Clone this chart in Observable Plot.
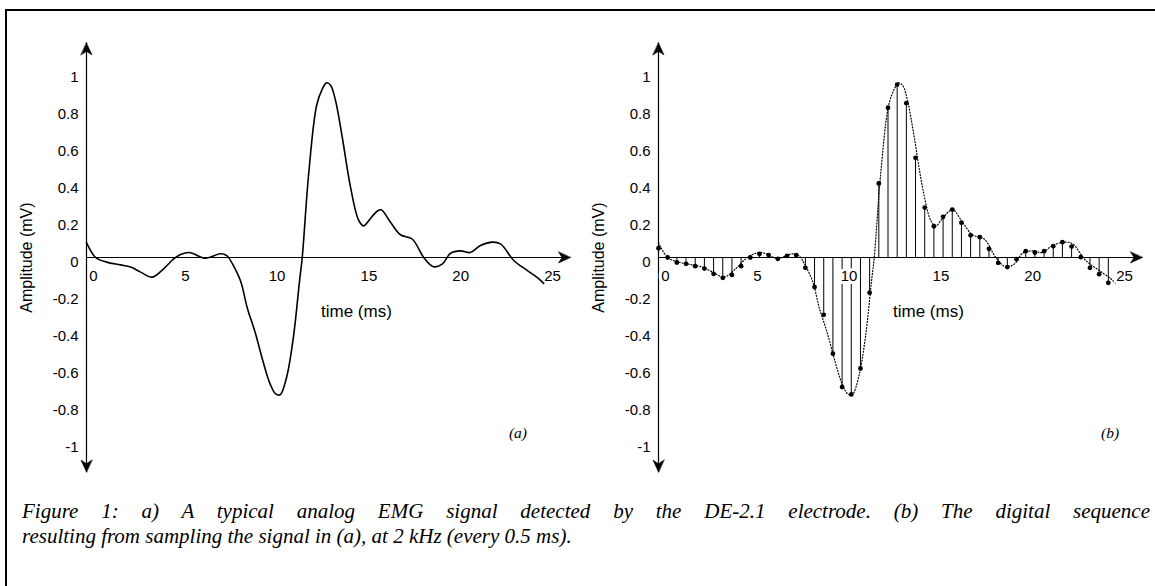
<!DOCTYPE html>
<html>
<head>
<meta charset="utf-8">
<script src="https://cdn.jsdelivr.net/npm/d3@7"></script>
<script src="https://cdn.jsdelivr.net/npm/@observablehq/plot@0.6"></script>
<style>
  html, body { margin: 0; padding: 0; background: #fff; }
  body { width: 1155px; height: 586px; position: relative; overflow: hidden; font-family: "Liberation Sans", Arial, sans-serif; }
  #a { position: absolute; left: 0; top: 0; }
  #b { position: absolute; left: 572px; top: 0; }
  #frame { position: absolute; left: 5px; top: 9px; width: 1200px; height: 700px; border-left: 2.5px solid #000; border-top: 2.5px solid #000; pointer-events: none; }
  #caption { position: absolute; left: 22px; top: 499px; width: 1128px; font-family: "Liberation Serif", "Times New Roman", serif; font-style: italic; font-size: 21px; line-height: 25px; color: #000; }
  #caption .l1 { text-align: justify; text-align-last: justify; white-space: nowrap; }
  #caption .l2 { text-align: left; white-space: nowrap; }
</style>
</head>
<body>
<div id="a"></div>
<div id="b"></div>
<div id="caption"></div>
<div id="frame"></div>
<script>
// ---- data ----
// analog signal (panel a and dotted curve of panel b): time in ms, amplitude in mV
const analogTime = [0, 0.5, 1.1, 1.85, 2.4, 2.95, 3.58, 4.2, 4.75, 5.12, 5.6, 6.48, 7.3, 7.66, 7.95, 8.4, 8.75, 9.2, 9.6, 10.0, 10.3, 10.55, 10.9, 11.27, 11.6, 11.75, 12.1, 12.53, 12.84, 13.07, 13.3, 13.56, 13.93, 14.38, 14.83, 15.1, 15.38, 15.83, 16.05, 16.56, 17.1, 17.74, 18.37, 18.9, 19.37, 19.83, 20.37, 20.9, 21.46, 22.1, 22.55, 23.27, 24.0, 24.64, 24.9];
const analogValue = [0.08, 0.0, -0.025, -0.04, -0.052, -0.079, -0.106, -0.061, -0.007, 0.016, 0.027, -0.004, 0.02, 0.009, -0.035, -0.13, -0.27, -0.41, -0.557, -0.683, -0.737, -0.742, -0.647, -0.43, -0.13, 0.0, 0.45, 0.82, 0.91, 0.944, 0.93, 0.85, 0.65, 0.38, 0.2, 0.171, 0.2, 0.25, 0.258, 0.19, 0.123, 0.1, 0.0, -0.05, -0.036, 0.023, 0.036, 0.027, 0.065, 0.083, 0.074, -0.016, -0.07, -0.115, -0.14];

// digital sequence (panel b): sampled every 0.5 ms
const sampleTime = [0, 0.5, 1, 1.5, 2, 2.5, 3, 3.5, 4, 4.5, 5, 5.5, 6, 6.5, 7, 7.5, 8, 8.5, 9, 9.5, 10, 10.5, 11, 11.5, 12, 12.5, 13, 13.5, 14, 14.5, 15, 15.5, 16, 16.5, 17, 17.5, 18, 18.5, 19, 19.5, 20, 20.5, 21, 21.5, 22, 22.5, 23, 23.5, 24, 24.5];
const sampleValue = [0.05, 0.0, -0.027, -0.034, -0.047, -0.06, -0.088, -0.11, -0.094, -0.047, 0.0, 0.02, 0.013, -0.007, 0.009, 0.013, -0.056, -0.16, -0.31, -0.52, -0.70, -0.74, -0.60, -0.19, 0.40, 0.81, 0.935, 0.834, 0.539, 0.27, 0.169, 0.22, 0.259, 0.188, 0.12, 0.11, 0.047, -0.029, -0.052, -0.009, 0.034, 0.027, 0.034, 0.061, 0.083, 0.059, 0.002, -0.056, -0.09, -0.137];

// tick labels
const xTicks = [0, 5, 10, 15, 20, 25];
const xTickLabels = ["0", "5", "10", "15", "20", "25"];
const yTicks = [1, 0.8, 0.6, 0.4, 0.2, 0, -0.2, -0.4, -0.6, -0.8, -1];
const yTickLabels = ["1", "0.8", "0.6", "0.4", "0.2", "0", "-0.2", "-0.4", "-0.6", "-0.8", "-1"];

const xLabel = "time (ms)";
const yLabel = "Amplitude (mV)";
const panelTags = ["(a)", "(b)"];
const captionLines = [
  "Figure 1: a) A typical analog EMG signal detected by the DE-2.1 electrode. (b) The digital sequence",
  "resulting from sampling the signal in (a), at 2 kHz (every 0.5 ms)."
];

// ---- layout (not data) ----
const X_ARROW = 26.36, Y_ARROW = 1.16;
const analog = analogTime.map((t, i) => ({t, v: analogValue[i]}));
const samples = sampleTime.map((t, i) => ({t, v: sampleValue[i]}));
const yTickData = yTicks.map((v, i) => ({v, label: yTickLabels[i]}));
const xTickData = xTicks.map((t, i) => ({t, label: xTickLabels[i]}));

const arrowShape = {
  draw(context, l) {
    const w = 5.5;
    context.moveTo(0, -l);
    context.lineTo(w, 0);
    context.lineTo(0, -l * 0.3);
    context.lineTo(-w, 0);
    context.closePath();
  }
};

function chart(kind, width) {
  const digital = kind === "b";
  const marks = [
    Plot.ruleY([0], {x1: 0, x2: X_ARROW, stroke: "black", strokeWidth: 1.2}),
    Plot.ruleX([0], {y1: -Y_ARROW, y2: Y_ARROW, stroke: "black", strokeWidth: 1.2}),
    Plot.vector([
      {x: X_ARROW, y: 0, r: 90},
      {x: 0, y: Y_ARROW, r: 0},
      {x: 0, y: -Y_ARROW, r: 180}
    ], {x: "x", y: "y", rotate: "r", length: 12, anchor: "end", shape: arrowShape, fill: "black", stroke: "black", strokeWidth: 0.6})
  ];
  if (digital) {
    marks.push(
      Plot.ruleX(samples, {x: "t", y1: 0, y2: "v", stroke: "black", strokeWidth: 1}),
      Plot.line(analog, {x: "t", y: "v", curve: "catmull-rom", stroke: "black", strokeWidth: 1.2, strokeDasharray: "1 2"}),
      Plot.dot(samples, {x: "t", y: "v", r: 2.4, fill: "black", stroke: "none"})
    );
  } else {
    marks.push(
      Plot.line(analog, {x: "t", y: "v", curve: "catmull-rom", stroke: "black", strokeWidth: 1.6})
    );
  }
  marks.push(
    Plot.text(yTickData, {x: 0, y: "v", text: "label", dx: -8, dy: 5, textAnchor: "end", fontSize: 15, fill: "black"}),
    Plot.text(xTickData, {x: "t", y: 0, text: "label", dx: 7, dy: 19, textAnchor: "middle", fontSize: 15, fill: "black",
      stroke: digital ? "white" : "none", strokeWidth: digital ? 6 : 0}),
    Plot.text([xLabel], {x: 14.7, y: -0.29, text: d => d, fontSize: 17, fill: "black"}),
    Plot.text([yLabel], {x: -3.27, y: 0, rotate: -90, text: d => d, fontSize: 16, fill: "black"}),
    Plot.text([panelTags[digital ? 1 : 0]], {x: digital ? 24.6 : 23.5, y: -0.95, text: d => d, fontSize: 15.5, fontFamily: "Liberation Serif, Times New Roman, serif", fontStyle: "italic", fill: "black"})
  );
  return Plot.plot({
    width,
    height: 480,
    marginLeft: 86,
    marginRight: width - 86 - 459,
    marginTop: 42.4,
    marginBottom: 8.4,
    x: {domain: [0, 25], axis: null},
    y: {domain: [-Y_ARROW, Y_ARROW], axis: null},
    style: {fontFamily: "Liberation Sans, Arial, sans-serif", background: "transparent", color: "black", overflow: "visible"},
    marks
  });
}

document.getElementById("a").appendChild(chart("a", 572));
document.getElementById("b").appendChild(chart("b", 583));

const cap = document.getElementById("caption");
captionLines.forEach((line, i) => {
  const d = document.createElement("div");
  d.className = i === 0 ? "l1" : "l2";
  d.textContent = line;
  cap.appendChild(d);
});
</script>
</body>
</html>
